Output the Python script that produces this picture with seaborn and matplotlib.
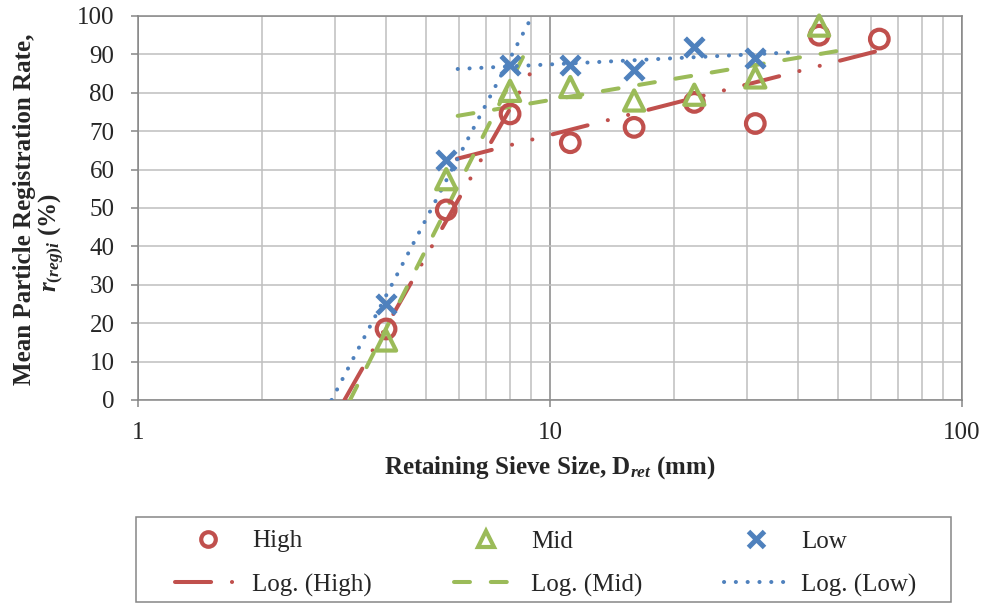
import matplotlib
matplotlib.use("Agg")
import matplotlib.pyplot as plt
from matplotlib.lines import Line2D
from matplotlib.patches import Rectangle
import seaborn as sns
import pandas as pd

# ---------------- data ----------------
sizes_high = [4, 5.6, 8, 11.2, 16, 22.4, 31.5, 45, 63]
rate_high = [18.5, 49.5, 74.5, 67, 71, 77.5, 72, 95, 94]
sizes_mid = [4, 5.6, 8, 11.2, 16, 22.4, 31.5, 45]
rate_mid = [15.5, 57.5, 80.5, 81.5, 78, 79.5, 84, 97.5]
sizes_low = [4, 5.6, 8, 11.2, 16, 22.4, 31.5]
rate_low = [25, 62.5, 87.2, 87.2, 86, 92, 89]

# logarithmic trend line segments (steep part, flat part), endpoints
trend_high_x = [[3.17, 9.0], [5.94, 68.5]]
trend_high_y = [[0.0, 85.5], [62.8, 92.0]]
trend_mid_x = [[3.27, 8.9], [5.97, 52.5]]
trend_mid_y = [[0.0, 92.5], [74.0, 91.3]]
trend_low_x = [[2.95, 9.0], [5.97, 38.2]]
trend_low_y = [[0.0, 99.5], [86.2, 90.5]]

series_names = ["High", "Mid", "Low"]
trend_names = ["Log. (High)", "Log. (Mid)", "Log. (Low)"]
x_ticks = [1, 10, 100]
y_ticks = [0, 10, 20, 30, 40, 50, 60, 70, 80, 90, 100]

# ---------------- style ----------------
RED, GREEN, BLUE = "#C0504D", "#9BBB59", "#4F81BD"
GRID = "#BFBFBF"
AXC = "#868686"

sns.set_theme(style="white")
plt.rcParams["font.family"] = ["Liberation Serif", "DejaVu Serif"]
plt.rcParams["mathtext.fontset"] = "custom"
plt.rcParams["mathtext.rm"] = "Liberation Serif:bold"
plt.rcParams["mathtext.bf"] = "Liberation Serif:bold"
plt.rcParams["mathtext.it"] = "Liberation Serif:italic:bold"
plt.rcParams["lines.scale_dashes"] = False

W, H = 987, 604
fig = plt.figure(figsize=(W / 100, H / 100), dpi=100)
ax = fig.add_axes([138 / W, 1 - 400 / H, (962 - 138) / W, (400 - 16) / H])
ax.set_xscale("log")
ax.set_xlim(1, 100)
ax.set_ylim(0, 100)

# grid
ax.set_yticks(y_ticks)
ax.set_xticks(x_ticks, labels=[str(t) for t in x_ticks])
ax.xaxis.set_minor_locator(matplotlib.ticker.LogLocator(base=10, subs=range(2, 10)))
ax.xaxis.set_minor_formatter(matplotlib.ticker.NullFormatter())
ax.grid(True, which="major", axis="y", color=GRID, lw=1.1)
ax.grid(True, which="minor", axis="x", color=GRID, lw=1.1)
ax.grid(True, which="major", axis="x", color=AXC, lw=1.1)
ax.set_axisbelow(True)
for sp in ax.spines.values():
    sp.set_color(AXC)
    sp.set_linewidth(1.1)
ax.tick_params(axis="y", which="major", direction="out", length=5, width=1.1,
               color=AXC, pad=12, labelsize=18, left=True)
ax.tick_params(axis="x", which="major", direction="out", length=5, width=1.1,
               color=AXC, pad=11, labelsize=18, bottom=True)
ax.tick_params(axis="x", which="minor", length=0)

# trend lines
LW = 2.9
styles = {
    "High": dict(color=RED, ls=(0, (26, 15, 0.1, 15, 0.1, 15))),
    "Mid": dict(color=GREEN, ls=(0, (11.5, 15))),
    "Low": dict(color=BLUE, ls=(0, (0.1, 8.4))),
}
trend_x = {"High": trend_high_x, "Mid": trend_mid_x, "Low": trend_low_x}
trend_y = {"High": trend_high_y, "Mid": trend_mid_y, "Low": trend_low_y}
for name in series_names:
    for xs, ys in zip(trend_x[name], trend_y[name]):
        seg = pd.DataFrame({"size": xs, "rate": ys})
        sns.lineplot(data=seg, x="size", y="rate", ax=ax, sort=False, estimator=None,
                     color=styles[name]["color"], linestyle=styles[name]["ls"],
                     linewidth=LW, dash_capstyle="round", solid_capstyle="round",
                     clip_on=True, zorder=3)

# scatter points
df_high = pd.DataFrame({"size": sizes_high, "rate": rate_high})
df_mid = pd.DataFrame({"size": sizes_mid, "rate": rate_mid})
df_low = pd.DataFrame({"size": sizes_low, "rate": rate_low})
sns.scatterplot(data=df_high, x="size", y="rate", ax=ax, marker="o", s=180,
                facecolors="none", edgecolor=RED, linewidth=3.0, zorder=4, clip_on=False)
sns.scatterplot(data=df_mid, x="size", y="rate", ax=ax, marker="^", s=210,
                facecolors="none", edgecolor=GREEN, linewidth=3.0, zorder=4, clip_on=False)
sns.scatterplot(data=df_low, x="size", y="rate", ax=ax, marker="x", s=180,
                color=BLUE, linewidth=3.6, zorder=4, clip_on=False)

# labels
ax.set_xlabel("")
ax.set_ylabel("")
fig.text(550 / W, 1 - 468 / H, r"Retaining Sieve Size, D$_{ret}$ (mm)",
         ha="center", va="center", fontsize=18, fontweight="bold")
fig.text(25 / W, 1 - 209 / H, "Mean Particle Registration Rate,",
         ha="center", va="center", rotation=90, fontsize=18, fontweight="bold")
fig.text(51 / W, 1 - 243 / H, r"$r_{(reg)i}$ (%)",
         ha="center", va="center", rotation=90, fontsize=18, fontweight="bold")

# legend (frame drawn separately so the padding can differ horizontally / vertically)
h_high = Line2D([], [], ls="none", marker="o", ms=10.5, mfc="none", mec=RED, mew=3)
h_mid = Line2D([], [], ls="none", marker="^", ms=11, mfc="none", mec=GREEN, mew=3)
h_low = Line2D([], [], ls="none", marker="x", ms=11, mec=BLUE, mew=3.6)
th = [Line2D([], [], color=styles[n]["color"], ls=styles[n]["ls"], lw=LW,
             dash_capstyle="round") for n in series_names]
handles = [h_high, th[0], h_mid, th[1], h_low, th[2]]
labels = [series_names[0], trend_names[0], series_names[1], trend_names[1],
          series_names[2], trend_names[2]]
leg = fig.legend(handles, labels, ncol=3, loc="upper left",
                 bbox_to_anchor=(175 / W, 1 - 530 / H), bbox_transform=fig.transFigure,
                 frameon=False, fontsize=18,
                 handlelength=2.6, handletextpad=0.5, columnspacing=3.25,
                 borderpad=0, labelspacing=0.84, borderaxespad=0)
fig.add_artist(Rectangle((136 / W, 1 - 602 / H), (951 - 136) / W, (602 - 517) / H,
                         transform=fig.transFigure, fill=False, edgecolor=AXC, lw=1.1))

fig.savefig("out.png", dpi=100)
